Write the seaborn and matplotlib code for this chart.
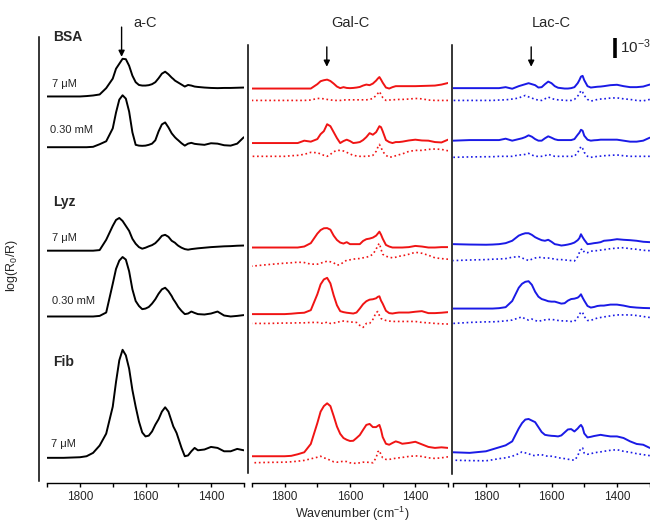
import numpy as np
import matplotlib
matplotlib.use("Agg")
import matplotlib.pyplot as plt
import seaborn as sns

# wavenumber grid (cm-1), shared by all spectra
wavenumber = [1900, 1850, 1800, 1780, 1760, 1740, 1720,
              1700, 1690, 1680, 1670, 1660, 1650, 1640, 1630, 1620, 1610,
              1600, 1590, 1580, 1570, 1560, 1550, 1540, 1530, 1520,
              1515, 1510, 1505, 1500,
              1490, 1480, 1470, 1460, 1450, 1440,
              1420, 1400, 1380, 1360, 1340, 1320, 1300]

# spectra in units of 1e-3, relative to the value at 1900 cm-1
# a-C (black)
ac_bsa_7um = [0, 0, 0, 0.02, 0.05, 0.1, 0.42,
              0.9, 1.4, 1.65, 1.9, 1.88, 1.55, 1.05, 0.72, 0.58, 0.55, 0.55, 0.57, 0.62, 0.72, 0.92, 1.15, 1.25, 1.12, 0.95,
              0.88, 0.8, 0.75, 0.7,
              0.6, 0.5, 0.58, 0.55, 0.5, 0.48,
              0.45, 0.43, 0.42, 0.43, 0.43, 0.44, 0.45]
ac_bsa_030mm = [0, 0, 0, 0, 0.02, 0.15, 0.3,
                0.95, 1.75, 2.4, 2.62, 2.45, 1.8, 0.75, 0.12, 0.08, 0.07, 0.08, 0.12, 0.18, 0.35, 0.8, 1.15, 1.25, 1.0, 0.7,
                0.6, 0.5, 0.42, 0.35,
                0.2, 0.08, 0.18, 0.22, 0.17, 0.15,
                0.12, 0.2, 0.18, 0.1, 0.08, 0.18, 0.5]
ac_lyz_7um = [0, 0, 0, 0, 0, 0.03, 0.55,
              1.25, 1.55, 1.65, 1.5, 1.25, 1.0, 0.6, 0.35, 0.18, 0.1, 0.15, 0.22, 0.28, 0.38, 0.55, 0.75, 0.8, 0.7, 0.5,
              0.45, 0.4, 0.32, 0.25,
              0.15, 0.08, 0.05, 0.08, 0.1, 0.12,
              0.15, 0.18, 0.2, 0.22, 0.23, 0.25, 0.26]
ac_lyz_030mm = [0, 0, 0, 0, 0, 0.03, 0.2,
                1.65, 2.4, 2.82, 3.0, 2.87, 2.28, 1.37, 0.78, 0.53, 0.37, 0.4, 0.48, 0.65, 0.87, 1.15, 1.37, 1.45, 1.28, 1.03,
                0.87, 0.75, 0.62, 0.48,
                0.28, 0.12, 0.15, 0.25, 0.18, 0.12,
                0.1, 0.15, 0.25, 0.05, 0.0, 0.03, 0.07]
ac_fib_7um = [0, 0, 0.03, 0.08, 0.25, 0.62, 1.22,
              2.58, 3.83, 4.92, 5.45, 5.17, 4.5, 3.42, 2.58, 1.83, 1.28, 1.08, 1.12, 1.33, 1.67, 1.95, 2.33, 2.55, 2.33, 1.83,
              1.58, 1.42, 1.25, 1.0,
              0.5, 0.08, 0.12, 0.33, 0.5, 0.38,
              0.42, 0.55, 0.5, 0.33, 0.33, 0.45, 0.38]

# Gal-C (red), solid and dotted
gal_bsa_7um = [0, 0, 0, 0, 0, 0, 0,
               0.22, 0.37, 0.42, 0.45, 0.38, 0.25, 0.1, 0.02, 0.07, 0.03, 0.02, 0.03, 0.05, 0.08, 0.15, 0.2, 0.17, 0.25, 0.4,
               0.5, 0.58, 0.45, 0.3,
               0.05, 0.0, 0.07, 0.12, 0.12, 0.12,
               0.12, 0.12, 0.13, 0.14, 0.15, 0.2, 0.28]
gal_bsa_7um_dot = [0, 0, 0, 0, 0, 0, 0.02,
                   0.1, 0.1, 0.08, 0.05, 0.03, 0.0, 0.0, 0.0, 0.02, 0.03, 0.03, 0.03, 0.03, 0.03, 0.03, 0.03, 0.05, 0.1, 0.25,
                   0.35, 0.45, 0.3, 0.15,
                   0.0, 0.02, 0.03, 0.04, 0.05, 0.05,
                   0.07, 0.1, 0.08, 0.02, 0.0, 0.0, 0.0]
gal_bsa_030mm = [0, 0, 0, 0, 0, 0.12, 0.07,
                 0.2, 0.45, 0.6, 0.95, 0.85, 0.55, 0.25, 0.0, 0.1, 0.17, 0.1, 0.0, 0.02, 0.05, 0.15, 0.3, 0.5, 0.42, 0.55,
                 0.7, 0.85, 0.8, 0.6,
                 0.15, 0.05, 0.0, 0.05, 0.05, 0.07,
                 0.13, 0.17, 0.13, 0.12, 0.05, 0.03, 0.17]
gal_bsa_030mm_dot = [0, 0, 0, 0.03, 0.05, 0.1, 0.2,
                     0.18, 0.12, 0.05, 0.0, 0.1, 0.23, 0.3, 0.3, 0.27, 0.2, 0.12, 0.05, 0.02, 0.0, 0.0, 0.0, 0.02, 0.05, 0.25,
                     0.45, 0.6, 0.45, 0.25,
                     0.05, -0.05, -0.02, 0.03, 0.08, 0.12,
                     0.25, 0.3, 0.3, 0.35, 0.37, 0.35, 0.28]
gal_lyz_7um = [0, 0, 0, 0, 0, 0.05, 0.22,
               0.7, 0.88, 0.97, 0.98, 0.9, 0.6, 0.38, 0.25, 0.2, 0.27, 0.17, 0.17, 0.17, 0.17, 0.33, 0.42, 0.45, 0.5, 0.6,
               0.7, 0.8, 0.65, 0.45,
               0.13, 0.05, 0.0, 0.0, 0.0, 0.0,
               0.02, 0.08, 0.05, 0.0, 0.0, 0.02, 0.02]
gal_lyz_7um_dot = [0, 0.08, 0.15, 0.17, 0.2, 0.18, 0.1,
                   0.1, 0.15, 0.2, 0.25, 0.22, 0.17, 0.05, 0.08, 0.2, 0.3, 0.32, 0.35, 0.38, 0.38, 0.42, 0.45, 0.5, 0.6, 0.85,
                   1.05, 1.15, 0.85, 0.6,
                   0.5, 0.45, 0.42, 0.45, 0.5, 0.52,
                   0.6, 0.7, 0.65, 0.55, 0.42, 0.38, 0.35]
gal_lyz_030mm = [0, 0, 0, 0.02, 0.05, 0.07, 0.2,
                 1.0, 1.5, 1.75, 1.83, 1.55, 0.95, 0.45, 0.15, 0.1, 0.07, 0.05, 0.03, 0.08, 0.28, 0.5, 0.65, 0.73, 0.75, 0.8,
                 0.87, 0.9, 0.68, 0.53,
                 0.17, 0.05, 0.03, 0.06, 0.08, 0.08,
                 0.08, 0.12, 0.15, 0.05, 0.05, 0.07, 0.1]
gal_lyz_030mm_dot = [0, 0, 0.02, 0.02, 0.03, 0.03, 0.05,
                     0.05, 0.02, 0.0, 0.07, 0.0, 0.02, 0.05, 0.1, 0.12, 0.1, 0.08, 0.06, 0.05, -0.1, -0.2, 0.0, 0.0, 0.2, 0.55,
                     0.6, 0.4, 0.25, 0.2,
                     0.15, 0.12, 0.1, 0.1, 0.1, 0.1,
                     0.1, 0.1, 0.05, 0.03, 0.0, -0.02, -0.03]
gal_fib_7um = [0, 0, 0, 0.02, 0.1, 0.2, 0.62,
               1.67, 2.25, 2.53, 2.67, 2.53, 2.03, 1.5, 1.13, 0.92, 0.83, 0.77, 0.78, 0.92, 1.07, 1.33, 1.58, 1.63, 1.47, 1.47,
               1.53, 1.58, 1.33, 0.97,
               0.63, 0.58, 0.67, 0.75, 0.7, 0.63,
               0.67, 0.73, 0.6, 0.47, 0.42, 0.45, 0.42]
gal_fib_7um_dot = [0, 0.02, 0.03, 0.05, 0.08, 0.12, 0.2,
                   0.28, 0.33, 0.25, 0.2, 0.12, 0.05, 0.03, 0.05, 0.08, 0.06, 0.0, -0.02, -0.03, 0.0, 0.03, 0.03, 0.02, 0.0, 0.25,
                   0.55, 0.62, 0.4, 0.25,
                   0.17, 0.17, 0.2, 0.23, 0.25, 0.27,
                   0.32, 0.35, 0.32, 0.25, 0.22, 0.25, 0.3]

# Lac-C (blue), solid and dotted
lac_bsa_7um = [0, 0, 0, 0, 0, 0.05, -0.03,
               0.1, 0.15, 0.2, 0.25, 0.2, 0.15, 0.03, 0.05, 0.2, 0.33, 0.25, 0.1, 0.02, 0.0, -0.02, -0.02, 0.0, 0.05, 0.25,
               0.4, 0.58, 0.62, 0.4,
               0.1, 0.03, 0.05, 0.07, 0.08, 0.1,
               0.15, 0.17, 0.1, 0.05, 0.05, 0.08, 0.18]
lac_bsa_7um_dot = [0, 0, 0, 0, 0.02, 0.03, 0.07,
                   0.12, 0.2, 0.25, 0.18, 0.12, 0.05, 0.02, 0.0, 0.08, 0.17, 0.1, 0.05, 0.03, 0.02, 0.0, 0.0, 0.0, 0.05, 0.22,
                   0.33, 0.5, 0.42, 0.25,
                   0.05, -0.03, 0.0, 0.05, 0.07, 0.08,
                   0.12, 0.13, 0.08, 0.05, 0.0, -0.02, 0.05]
lac_bsa_030mm = [0, 0.03, 0.03, 0.03, 0.03, 0.1, 0.0,
                 0.08, 0.12, 0.18, 0.27, 0.2, 0.08, 0.0, 0.0, 0.12, 0.22, 0.15, 0.07, 0.03, 0.03, 0.03, 0.03, 0.03, 0.08, 0.3,
                 0.4, 0.55, 0.5, 0.25,
                 0.05, 0.0, 0.02, 0.03, 0.05, 0.05,
                 0.05, 0.05, 0.0, -0.05, -0.05, 0.0, 0.15]
lac_bsa_030mm_dot = [0, 0.02, 0.03, 0.03, 0.05, 0.05, 0.05,
                     0.12, 0.12, 0.15, 0.2, 0.12, 0.05, 0.05, 0.05, 0.08, 0.15, 0.1, 0.05, 0.05, 0.05, 0.05, 0.05, 0.05, 0.05, 0.25,
                     0.38, 0.55, 0.45, 0.25,
                     0.05, 0.0, 0.02, 0.05, 0.06, 0.08,
                     0.1, 0.12, 0.08, 0.05, 0.05, 0.05, 0.05]
lac_lyz_7um = [0, -0.02, -0.03, -0.02, 0, 0.05, 0.17,
               0.43, 0.5, 0.55, 0.55, 0.47, 0.35, 0.27, 0.2, 0.17, 0.22, 0.12, 0.0, -0.03, -0.07, -0.05, -0.02, 0.02, 0.08, 0.2,
               0.3, 0.5, 0.35, 0.22,
               0.0, 0.02, 0.05, 0.07, 0.1, 0.17,
               0.2, 0.25, 0.22, 0.2, 0.17, 0.12, 0.1]
lac_lyz_7um_dot = [0, 0.03, 0.05, 0.07, 0.08, 0.1, 0.17,
                   0.2, 0.13, 0.07, 0.0, 0.07, 0.13, 0.17, 0.15, 0.13, 0.13, 0.1, 0.08, 0.05, 0.05, 0.03, 0.02, 0.0, -0.02, 0.2,
                   0.4, 0.55, 0.6, 0.42,
                   0.4, 0.47, 0.5, 0.5, 0.53, 0.55,
                   0.6, 0.63, 0.65, 0.6, 0.57, 0.52, 0.5]
lac_lyz_030mm = [0, 0, 0, 0, 0.02, 0.07, 0.38,
                 1.05, 1.25, 1.35, 1.38, 1.2, 0.85, 0.6, 0.48, 0.43, 0.37, 0.35, 0.35, 0.3, 0.25, 0.27, 0.4, 0.48, 0.5, 0.55,
                 0.62, 0.72, 0.55, 0.4,
                 0.13, 0.05, 0.08, 0.13, 0.15, 0.15,
                 0.2, 0.2, 0.15, 0.08, 0.05, 0.03, 0.02]
lac_lyz_030mm_dot = [0, 0.05, 0.08, 0.08, 0.1, 0.13, 0.17,
                     0.28, 0.33, 0.22, 0.17, 0.22, 0.15, 0.1, 0.15, 0.18, 0.2, 0.2, 0.18, 0.15, 0.13, 0.13, 0.12, 0.1, 0.1, 0.3,
                     0.45, 0.58, 0.55, 0.35,
                     0.15, 0.15, 0.22, 0.27, 0.3, 0.33,
                     0.38, 0.43, 0.43, 0.43, 0.4, 0.35, 0.3]
lac_fib_7um = [0, -0.03, 0.05, 0.15, 0.25, 0.35, 0.55,
               1.2, 1.47, 1.65, 1.68, 1.6, 1.52, 1.27, 1.02, 0.88, 0.85, 0.83, 0.82, 0.8, 0.85, 1.0, 1.15, 1.17, 1.05, 1.2,
               1.3, 1.38, 1.25, 0.95,
               0.75, 0.78, 0.82, 0.85, 0.88, 0.85,
               0.8, 0.8, 0.72, 0.55, 0.42, 0.38, 0.22]
lac_fib_7um_dot = [0, -0.02, -0.03, 0.02, 0.08, 0.12, 0.2,
                   0.33, 0.42, 0.37, 0.33, 0.25, 0.23, 0.27, 0.28, 0.22, 0.2, 0.2, 0.17, 0.13, 0.1, 0.08, 0.05, 0.02, 0.0, 0.2,
                   0.45, 0.6, 0.62, 0.35,
                   0.3, 0.33, 0.37, 0.4, 0.42, 0.45,
                   0.5, 0.53, 0.45, 0.4, 0.33, 0.28, 0.23]

panel_titles = ["a-C", "Gal-C", "Lac-C"]
proteins = ["BSA", "Lyz", "Fib"]
concentrations = ["7 \u03bcM", "0.30 mM", "7 \u03bcM", "0.30 mM", "7 \u03bcM"]
arrow_position = [1673, 1671, 1662]

# vertical stacking offsets (units of 1e-3)
ac_offsets = [19.5, 16.94, 11.72, 8.4, 1.27]
gal_offsets = [19.9, 17.15, 11.88, 8.52, 1.35]
gal_dot_offsets = [19.3, 16.48, 10.94, 8.05, 1.02]
lac_offsets = [19.92, 17.27, 12.05, 8.8, 1.55]
lac_dot_offsets = [19.3, 16.43, 11.22, 8.05, 1.15]

sns.set_style("ticks")
plt.rcParams['font.family'] = ['Liberation Sans', 'DejaVu Sans']
plt.rcParams['mathtext.default'] = 'regular'

fig = plt.figure(figsize=(6.5, 5.25), dpi=100)
W, H = 650, 525
ax1 = fig.add_axes([47.25 / W, 42 / H, 196.5 / W, 446 / H])
ax2 = fig.add_axes([252 / W, 42 / H, 196 / W, 446 / H])
ax3 = fig.add_axes([453.25 / W, 42 / H, 196.5 / W, 446 / H])
axes = [ax1, ax2, ax3]

red = "#f01414"
blue = "#1a1ae6"

for vals, off in zip([ac_bsa_7um, ac_bsa_030mm, ac_lyz_7um, ac_lyz_030mm, ac_fib_7um], ac_offsets):
    sns.lineplot(x=wavenumber, y=np.array(vals) + off, ax=ax1, color="black", lw=1.4)

gal_solid = [gal_bsa_7um, gal_bsa_030mm, gal_lyz_7um, gal_lyz_030mm, gal_fib_7um]
gal_dot = [gal_bsa_7um_dot, gal_bsa_030mm_dot, gal_lyz_7um_dot, gal_lyz_030mm_dot, gal_fib_7um_dot]
for vals, off in zip(gal_solid, gal_offsets):
    sns.lineplot(x=wavenumber, y=np.array(vals) + off, ax=ax2, color=red, lw=1.4)
for vals, off in zip(gal_dot, gal_dot_offsets):
    sns.lineplot(x=wavenumber, y=np.array(vals) + off, ax=ax2, color=red, lw=1.2, linestyle=":")

lac_solid = [lac_bsa_7um, lac_bsa_030mm, lac_lyz_7um, lac_lyz_030mm, lac_fib_7um]
lac_dot = [lac_bsa_7um_dot, lac_bsa_030mm_dot, lac_lyz_7um_dot, lac_lyz_030mm_dot, lac_fib_7um_dot]
for vals, off in zip(lac_solid, lac_offsets):
    sns.lineplot(x=wavenumber, y=np.array(vals) + off, ax=ax3, color=blue, lw=1.4)
for vals, off in zip(lac_dot, lac_dot_offsets):
    sns.lineplot(x=wavenumber, y=np.array(vals) + off, ax=ax3, color=blue, lw=1.2, linestyle=":")

spine_shift = [5.8, 2.9, 1.0]
spine_bounds = [(0.1, 22.5), (0.5, 22.1), (0.45, 22.1)]
for ax, title, shift, bounds, arr in zip(axes, panel_titles, spine_shift, spine_bounds, arrow_position):
    ax.set_xlim(1900, 1300)
    ax.set_ylim(0, 22.5)
    ax.set_xticks([1800, 1600, 1400])
    ax.set_xticks([1900, 1700, 1500, 1300], minor=True)
    ax.set_yticks([])
    ax.tick_params(axis="x", which="both", direction="out", length=3, width=1,
                   labelsize=8.5, pad=3, color="black")
    ax.set_ylabel("")
    ax.set_xlabel("")
    for s in ["top", "right"]:
        ax.spines[s].set_visible(False)
    ax.spines["bottom"].set_color("black")
    ax.spines["bottom"].set_linewidth(1)
    ax.spines["left"].set_position(("outward", shift))
    ax.spines["left"].set_bounds(*bounds)
    ax.spines["left"].set_color("black")
    ax.spines["left"].set_linewidth(1.1)
    ax.set_title(title, fontsize=10.5, pad=7)
    ax.annotate("", xy=(arr, 21.0 if ax is not ax1 else 21.5), xytext=(arr, 23.0 if ax is ax1 else 22.0),
                annotation_clip=False,
                arrowprops=dict(arrowstyle="-|>", color="black", lw=1, mutation_scale=9, shrinkA=0, shrinkB=0))

# row labels in the a-C panel
for name, y in zip(proteins, [22.5, 14.2, 6.1]):
    ax1.text(1882, y, name, fontsize=10, fontweight="bold", va="center", ha="left")
for lab, y, x in zip(concentrations, [20.15, 17.8, 12.35, 9.2, 1.95], [1885, 1892, 1885, 1885, 1888]):
    ax1.text(x, y, lab, fontsize=8, va="center", ha="left")

# scale bar
ax3.vlines(1406, 21.45, 22.45, color="black", lw=2.6, clip_on=False)
ax3.text(1391, 22.0, "10$^{-3}$", fontsize=11, va="center", ha="left", clip_on=False)

fig.text(352 / W, 2 / H, "Wavenumber (cm$^{-1}$)", fontsize=9, va="bottom", ha="center")
fig.text(12 / W, 1 - 265 / H, "log(R$_0$/R)", rotation=90, fontsize=9, va="center", ha="center")

fig.savefig("out.png", dpi=100)
